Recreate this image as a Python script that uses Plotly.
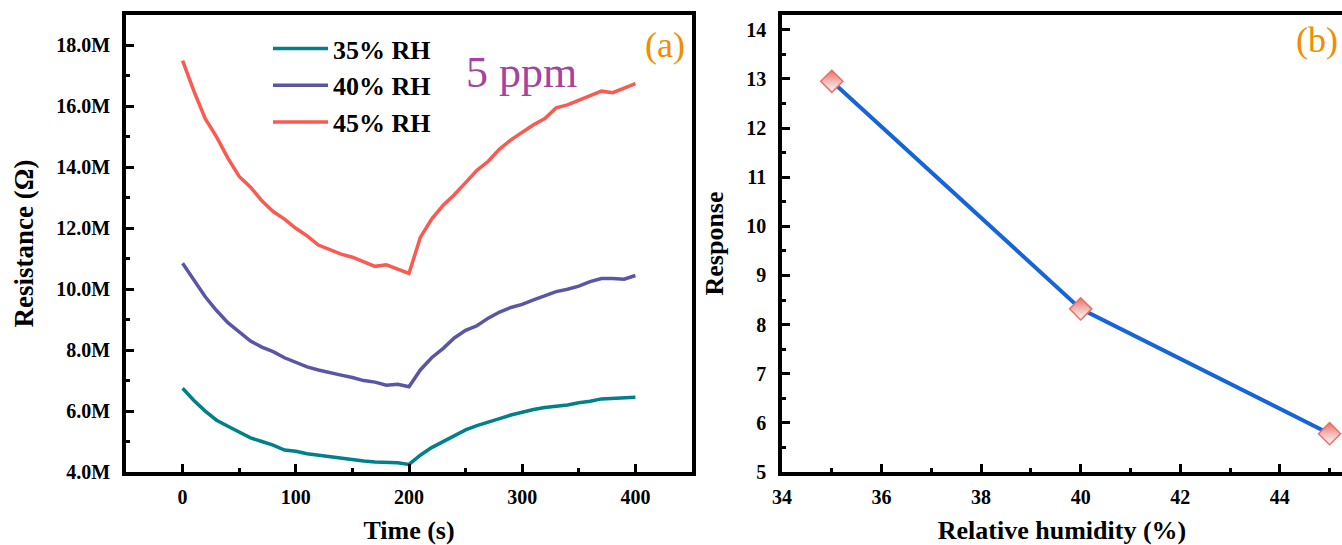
import plotly.graph_objects as go

# ---------------- data (a) ----------------
time_s = [0, 10, 20, 30, 40, 50, 60, 70, 80, 90, 100, 110, 120, 130, 140, 150, 160, 170, 180, 190, 200,
          210, 220, 230, 240, 250, 260, 270, 280, 290, 300, 310, 320, 330, 340, 350, 360, 370, 380, 390, 400]

r_35 = [6.75, 6.35, 6.00, 5.70, 5.50, 5.30, 5.12, 5.00, 4.88, 4.72, 4.68, 4.60, 4.55, 4.50, 4.45, 4.42, 4.36, 4.33, 4.31, 4.30, 4.25,
        4.55, 4.80, 5.00, 5.20, 5.38, 5.52, 5.65, 5.75, 5.87, 5.97, 6.05, 6.12, 6.15, 6.20, 6.27, 6.32, 6.40, 6.42, 6.42, 6.45]
r_40 = [10.85, 10.30, 9.75, 9.30, 8.90, 8.60, 8.30, 8.10, 7.95, 7.75, 7.60, 7.45, 7.35, 7.25, 7.18, 7.10, 7.00, 6.95, 6.85, 6.88, 6.80,
        7.35, 7.75, 8.05, 8.40, 8.65, 8.80, 9.05, 9.25, 9.40, 9.50, 9.65, 9.80, 9.92, 10.00, 10.10, 10.25, 10.35, 10.35, 10.33, 10.45]
r_45 = [17.50, 16.50, 15.60, 15.00, 14.30, 13.70, 13.35, 12.90, 12.55, 12.30, 12.00, 11.75, 11.45, 11.30, 11.15, 11.05, 10.90, 10.75, 10.80, 10.65, 10.52,
        11.70, 12.30, 12.75, 13.10, 13.50, 13.90, 14.20, 14.60, 14.90, 15.15, 15.40, 15.60, 15.95, 16.05, 16.20, 16.35, 16.50, 16.45, 16.60, 16.75]

series_names = ["35% RH", "40% RH", "45% RH"]
series_vals = [r_35, r_40, r_45]
series_colors = ["#00808a", "#5a56a6", "#fa5a50"]

res_tickvals = [4e6, 6e6, 8e6, 10e6, 12e6, 14e6, 16e6, 18e6]
res_ticktext = ["4.0M", "6.0M", "8.0M", "10.0M", "12.0M", "14.0M", "16.0M", "18.0M"]

# ---------------- data (b) ----------------
humidity = [35, 40, 45]
response = [12.95, 8.32, 5.78]

FONT = "Liberation Serif"

fig = go.Figure()

for name, vals, col in zip(series_names, series_vals, series_colors):
    fig.add_trace(go.Scatter(
        x=time_s, y=[v * 1e6 for v in vals], mode="lines", name=name,
        line=dict(color=col, width=3.5), xaxis="x", yaxis="y", showlegend=True))

fig.add_trace(go.Scatter(
    x=humidity, y=response, mode="lines+markers", showlegend=False,
    line=dict(color="#1565d8", width=4),
    marker=dict(symbol="diamond", size=17, color="#e8706a",
                gradient=dict(type="vertical", color="white"),
                line=dict(color="#e8706a", width=1.5)),
    xaxis="x2", yaxis="y2"))

W, H = 1342, 545
axis_common = dict(
    showline=True, linecolor="black", linewidth=3.5, mirror=True,
    ticks="inside", ticklen=8, tickwidth=3, tickcolor="black",
    showgrid=False, zeroline=False, automargin=False,
    tickfont=dict(family=FONT, size=20, color="black", weight="bold"),
)
minor_common = dict(ticks="inside", ticklen=4, tickwidth=3, tickcolor="black")
title_font = dict(family=FONT, size=26, color="black")

fig.update_layout(
    width=W, height=H,
    margin=dict(l=0, r=0, t=15, b=73),
    paper_bgcolor="white", plot_bgcolor="white",
    font=dict(family=FONT, color="black"),
    xaxis=dict(domain=[126 / W, 692 / W], range=[-50, 450],
               tickvals=[0, 100, 200, 300, 400], ticklabelstandoff=4,
               minor=dict(tickvals=[-50, 50, 150, 250, 350], **minor_common),
               title=dict(text="<b>Time (s)</b>", font=title_font, standoff=20),
               **axis_common),
    yaxis=dict(domain=[0, 1], range=[4e6, 19e6],
               tickvals=res_tickvals, ticktext=res_ticktext, ticklabelstandoff=8,
               minor=dict(tickvals=[5e6, 7e6, 9e6, 11e6, 13e6, 15e6, 17e6], **minor_common),
               title=dict(text="<b>Resistance (Ω)</b>", font=dict(family=FONT, size=27, color="black"), standoff=16),
               **axis_common),
    xaxis2=dict(domain=[782 / W, 1.0], range=[34, 45.25], anchor="y2",
                tickvals=[34, 36, 38, 40, 42, 44], ticklabelstandoff=4,
                minor=dict(tickvals=[35, 37, 39, 41, 43, 45], **minor_common),
                title=dict(text="<b>Relative humidity (%)</b>", font=title_font, standoff=20),
                **axis_common),
    yaxis2=dict(domain=[0, 1], range=[5, 14.3], anchor="x2",
                tickvals=[5, 6, 7, 8, 9, 10, 11, 12, 13, 14], ticklabelstandoff=8,
                minor=dict(tickvals=[5.5, 6.5, 7.5, 8.5, 9.5, 10.5, 11.5, 12.5, 13.5], **minor_common),
                title=dict(text="<b>Response</b>", font=title_font, standoff=16),
                **axis_common),
    legend=dict(x=268 / W, y=(472 - 25) / 457, xanchor="left", yanchor="top",
                bgcolor="rgba(0,0,0,0)", font=dict(family=FONT, size=26, color="black", weight="bold"),
                itemwidth=55, tracegroupgap=0),
)

fig.add_annotation(text="5 ppm", xref="paper", yref="paper", x=521 / W, y=(472 - 72) / 457,
                   showarrow=False, font=dict(family=FONT, size=44, color="#a4449c"),
                   xanchor="center", yanchor="middle")
fig.add_annotation(text="(a)", xref="paper", yref="paper", x=687 / W, y=(472 - 45) / 457,
                   showarrow=False, font=dict(family=FONT, size=36, color="#f28c00"),
                   xanchor="right", yanchor="middle")
fig.add_annotation(text="(b)", xref="paper", yref="paper", x=1340 / W, y=(472 - 40) / 457,
                   showarrow=False, font=dict(family=FONT, size=36, color="#f28c00"),
                   xanchor="right", yanchor="middle")

fig.write_html("out.html")
